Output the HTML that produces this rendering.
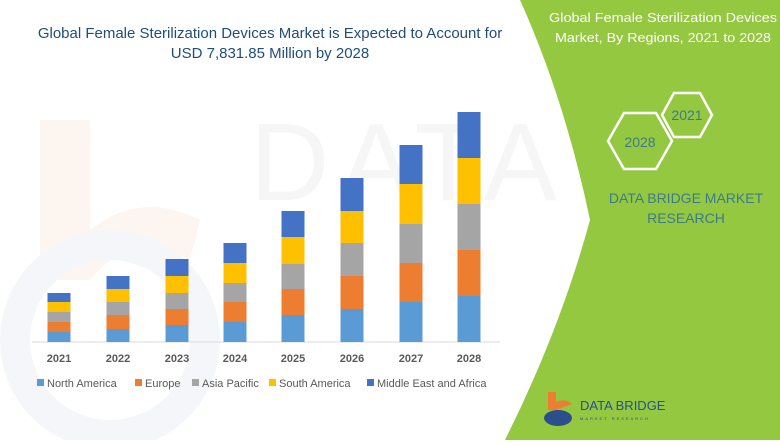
<!DOCTYPE html>
<html><head><style>
body{margin:0;width:780px;height:440px;overflow:hidden;background:#fff;font-family:"Liberation Sans",sans-serif;}
</style></head><body>
<svg width="780" height="440" xmlns="http://www.w3.org/2000/svg" font-family="Liberation Sans, sans-serif">
<rect width="780" height="440" fill="#fff"/>
<path d="M40 120 L90 120 L90 230 Q140 190 200 220 L190 260 Q130 230 90 280 L40 280Z" fill="#fdf5f0"/>
<circle cx="110" cy="340" r="95" fill="none" stroke="#f4f6f9" stroke-width="30"/>
<text x="250" y="200" font-size="110" fill="#f6f6f6" letter-spacing="10">DATA BRIDGE</text>
<path d="M520 0 L780 0 L780 440 L505 440 Q560 330 590 220 Q565 100 520 0Z" fill="#94c841"/>
<text x="270" y="38" font-size="15" fill="#1f4e79" text-anchor="middle">Global Female Sterilization Devices Market is Expected to Account for</text>
<text x="270" y="58" font-size="15" fill="#1f4e79" text-anchor="middle">USD 7,831.85 Million by 2028</text>
<text x="549" y="22" font-size="13" fill="#fff" textLength="228" lengthAdjust="spacingAndGlyphs">Global Female Sterilization Devices</text>
<text x="555" y="42" font-size="13" fill="#fff" textLength="216" lengthAdjust="spacingAndGlyphs">Market, By Regions, 2021 to 2028</text>
<polygon points="674,93 700,93 712,115 700,137 674,137 662,115" fill="none" stroke="#fff" stroke-width="2.5"/>
<polygon points="624,113 656,113 672,141 656,169 624,169 608,141" fill="none" stroke="#fff" stroke-width="2.5"/>
<text x="687" y="120" font-size="14" fill="#3d7b8a" text-anchor="middle">2021</text>
<text x="640" y="147" font-size="14" fill="#3d7b8a" text-anchor="middle">2028</text>
<text x="686" y="203" font-size="14" fill="#3d7b8a" text-anchor="middle">DATA BRIDGE MARKET</text>
<text x="686" y="223" font-size="14" fill="#3d7b8a" text-anchor="middle">RESEARCH</text>
<path d="M548 392 L556 392 L556 402 Q566 398 572 404 L556 410 L548 410Z" fill="#ed7d31"/>
<ellipse cx="558" cy="418" rx="14" ry="8" fill="#2b4f8c"/>
<text x="580" y="410" font-size="13" fill="#2b4f8c">DATA BRIDGE</text>
<text x="580" y="420" font-size="4" fill="#2b4f8c" letter-spacing="2">MARKET RESEARCH</text>
<line x1="32" y1="342" x2="500" y2="342" stroke="#d9d9d9"/>
<g font-size="11" font-weight="bold" fill="#595959" text-anchor="middle">
<text x="59" y="362">2021</text><text x="118" y="362">2022</text><text x="177" y="362">2023</text><text x="235" y="362">2024</text><text x="293" y="362">2025</text><text x="352" y="362">2026</text><text x="411" y="362">2027</text><text x="469" y="362">2028</text>
</g>
<g font-size="11" fill="#595959">
<rect x="37" y="379" width="7" height="7" fill="#5b9bd5"/><text x="47" y="387">North America</text>
<rect x="135" y="379" width="7" height="7" fill="#ed7d31"/><text x="145" y="387">Europe</text>
<rect x="192" y="379" width="7" height="7" fill="#a5a5a5"/><text x="202" y="387">Asia Pacific</text>
<rect x="269" y="379" width="7" height="7" fill="#ffc000"/><text x="279" y="387">South America</text>
<rect x="367" y="379" width="7" height="7" fill="#4472c4"/><text x="377" y="387">Middle East and Africa</text>
</g>
<g>
<rect x="47.5" y="332" width="23" height="10" fill="#5b9bd5"/><rect x="47.5" y="322" width="23" height="10" fill="#ed7d31"/><rect x="47.5" y="312" width="23" height="10" fill="#a5a5a5"/><rect x="47.5" y="302" width="23" height="10" fill="#ffc000"/><rect x="47.5" y="293" width="23" height="9" fill="#4472c4"/>
<rect x="106.5" y="329" width="23" height="13" fill="#5b9bd5"/><rect x="106.5" y="315" width="23" height="14" fill="#ed7d31"/><rect x="106.5" y="302" width="23" height="13" fill="#a5a5a5"/><rect x="106.5" y="289" width="23" height="13" fill="#ffc000"/><rect x="106.5" y="276" width="23" height="13" fill="#4472c4"/>
<rect x="165.5" y="325" width="23" height="17" fill="#5b9bd5"/><rect x="165.5" y="309" width="23" height="16" fill="#ed7d31"/><rect x="165.5" y="293" width="23" height="16" fill="#a5a5a5"/><rect x="165.5" y="276" width="23" height="17" fill="#ffc000"/><rect x="165.5" y="259" width="23" height="17" fill="#4472c4"/>
<rect x="223.5" y="322" width="23" height="20" fill="#5b9bd5"/><rect x="223.5" y="302" width="23" height="20" fill="#ed7d31"/><rect x="223.5" y="283" width="23" height="19" fill="#a5a5a5"/><rect x="223.5" y="263" width="23" height="20" fill="#ffc000"/><rect x="223.5" y="243" width="23" height="20" fill="#4472c4"/>
<rect x="281.5" y="315" width="23" height="27" fill="#5b9bd5"/><rect x="281.5" y="289" width="23" height="26" fill="#ed7d31"/><rect x="281.5" y="264" width="23" height="25" fill="#a5a5a5"/><rect x="281.5" y="237" width="23" height="27" fill="#ffc000"/><rect x="281.5" y="211" width="23" height="26" fill="#4472c4"/>
<rect x="340.5" y="309" width="23" height="33" fill="#5b9bd5"/><rect x="340.5" y="276" width="23" height="33" fill="#ed7d31"/><rect x="340.5" y="243" width="23" height="33" fill="#a5a5a5"/><rect x="340.5" y="211" width="23" height="32" fill="#ffc000"/><rect x="340.5" y="178" width="23" height="33" fill="#4472c4"/>
<rect x="399.5" y="302" width="23" height="40" fill="#5b9bd5"/><rect x="399.5" y="263" width="23" height="39" fill="#ed7d31"/><rect x="399.5" y="224" width="23" height="39" fill="#a5a5a5"/><rect x="399.5" y="184" width="23" height="40" fill="#ffc000"/><rect x="399.5" y="145" width="23" height="39" fill="#4472c4"/>
<rect x="457.5" y="296" width="23" height="46" fill="#5b9bd5"/><rect x="457.5" y="250" width="23" height="46" fill="#ed7d31"/><rect x="457.5" y="204" width="23" height="46" fill="#a5a5a5"/><rect x="457.5" y="158" width="23" height="46" fill="#ffc000"/><rect x="457.5" y="112" width="23" height="46" fill="#4472c4"/>
</g>
</svg>
</body></html>
